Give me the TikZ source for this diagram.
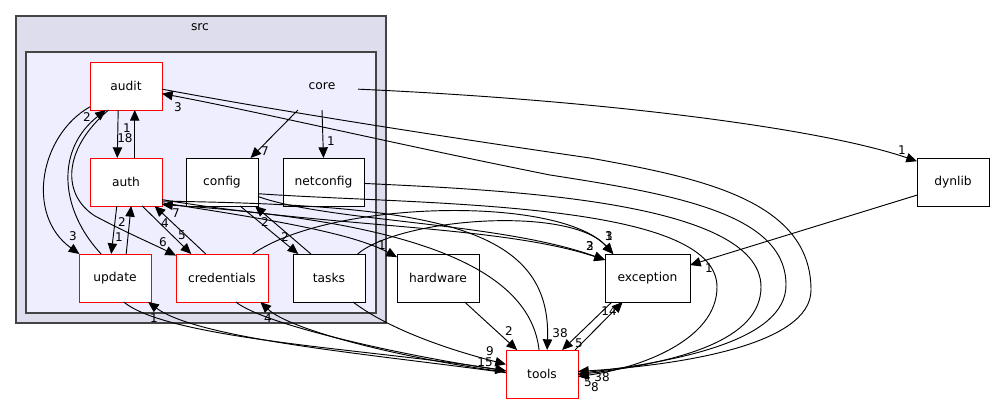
\documentclass[tikz,border=0pt]{standalone}
\usepackage{fontspec}
\newfontfamily\dirfont{DejaVu Sans}
\usepackage{tikz}
\usetikzlibrary{arrows.meta,positioning}
\definecolor{clusterout}{HTML}{DDDDEE}
\definecolor{clusterin}{HTML}{EEEEFF}
\definecolor{frame}{HTML}{444444}
\begin{document}
\begin{tikzpicture}[x=0.75pt, y=-0.75pt, font=\dirfont\fontsize{9.2}{11}\selectfont,
  dirbox/.style={draw=black, fill=white, line width=0.75pt, minimum height=36pt,
    minimum width=54pt, inner sep=0pt, outer sep=0pt},
  cycbox/.style={dirbox, draw=red},
  lab/.style={font=\dirfont\fontsize{9}{10}\selectfont, inner sep=0pt},
  dep/.style={-{Triangle[length=8pt,width=7pt]}, line width=0.7pt}]
  \useasboundingbox (0,0) rectangle (995,404);
  \draw[fill=clusterout, draw=frame, line width=0.8pt] (16,16) rectangle (386,323);
  \node (src) at (200,27) {src};
  \draw[fill=clusterin, draw=frame, line width=1pt] (26,52) rectangle (376,313);
  \node[minimum width=54pt, minimum height=36pt, inner sep=0pt, outer sep=0pt] (core) at (322,86) {core};
  \node[cycbox] (audit) at (126,86) {audit};
  \node[cycbox] (auth) at (126,182) {auth};
  \node[dirbox] (config) at (222,182) {config};
  \node[dirbox, minimum width=60.75pt] (netconfig) at (323.5,182) {netconfig};
  \node[cycbox] (update) at (115,278) {update};
  \node[cycbox, minimum width=69pt] (credentials) at (222,278) {credentials};
  \node[dirbox] (tasks) at (329,278) {tasks};
  \node[dirbox, minimum width=61.5pt] (hardware) at (438,278) {hardware};
  \node[dirbox, minimum width=63.75pt] (exception) at (647.5,278) {exception};
  \node[cycbox] (tools) at (542,374) {tools};
  \node[dirbox] (dynlib) at (953,182) {dynlib};

  \draw[dep] (core.225) -- (config.40);
  \node[lab] at (265,151) {7};
  \draw[dep] (core.south) -- (netconfig.north);
  \node[lab] at (331,141) {1};
  \draw[dep] (core.-5) .. controls (600,100) and (820,128) .. (dynlib.150);
  \node[lab] at (902,150) {1};

  \draw[dep] (audit.252) -- (auth.110);
  \node[lab] at (125,138) {18};
  \draw[dep] (auth.70) -- (audit.290);
  \node[lab] at (127,128) {1};
  \draw[dep] (audit.210) .. controls (40,135) and (25,215) .. (update.146);
  \node[lab] at (73,236) {3};
  \draw[dep] (update.120) .. controls (60,210) and (55,150) .. (audit.230);
  \node[lab] at (87,117) {2};
  \draw[dep] (audit.234) .. controls (62,150) and (62,195) .. (95,216)
    .. controls (125,232) and (155,245) .. (credentials.154);
  \node[lab] at (163,242) {6};
  \draw[dep] (auth.249) -- (update.99);
  \node[lab] at (119,237) {1};
  \draw[dep] (update.65) -- (auth.282);
  \node[lab] at (122,222) {2};
  \draw[dep] (auth.304) -- (credentials.142);
  \node[lab] at (182,235) {5};
  \draw[dep] (credentials.124) -- (auth.320);
  \node[lab] at (165,223) {4};

  \draw[dep] (tools.97) .. controls (530,270) and (420,222) .. (auth.-32);
  \node[lab] at (176,213) {7};
  \draw[dep] (auth.-28) .. controls (430,205) and (552,225) .. (tools.78);
  \node[lab] at (560,333) {38};
  \draw[dep] (auth.-30) .. controls (260,218) and (350,232) .. (hardware.153);
  \node[lab] at (382,245) {1};
  \draw[dep] (auth.-26) .. controls (330,228) and (500,225) .. (exception.157);
  \node[lab] at (590,246) {2};
  \draw[dep] (config.-22) .. controls (330,222) and (500,222) .. (exception.157);
  \node[lab] at (590,246) {3};
  \draw[dep] (credentials.38) .. controls (330,200) and (560,195) .. (exception.145);
  \node[lab] at (609,236) {3};
  \draw[dep] (tasks.40) .. controls (400,218) and (570,205) .. (exception.145);
  \node[lab] at (609,236) {1};
  \draw[dep] (config.307) -- (tasks.142);
  \node[lab] at (285,237) {2};
  \draw[dep] (tasks.127) -- (config.324);
  \node[lab] at (265,222) {2};

  \draw[dep] (audit.-5) .. controls (300,115) and (500,145) .. (590,158)
    .. controls (700,178) and (811,200) .. (811,290)
    .. controls (811,345) and (680,365) .. (tools.4);
  \draw[dep] (tools.1) .. controls (680,362) and (786,340) .. (786,285)
    .. controls (786,215) and (680,195) .. (550,175)
    .. controls (400,145) and (250,110) .. (audit.-12);
  \node[lab] at (178,107) {3};
  \draw[dep] (netconfig.-2) .. controls (500,190) and (761,200) .. (761,287)
    .. controls (761,340) and (680,362) .. (tools.-1);
  \draw[dep] (config.-18) .. controls (420,205) and (717,200) .. (717,287)
    .. controls (717,340) and (640,368) .. (tools.-4);
  \node[lab] at (602,377) {38};
  \node[lab] at (588,382) {5};
  \node[lab] at (595,387) {8};

  \draw[dep] (update.-70) .. controls (170,340) and (380,350) .. (tools.175);
  \draw[dep] (tools.178) .. controls (380,355) and (200,340) .. (update.-36);
  \node[lab] at (154,318) {1};
  \draw[dep] (credentials.-60) .. controls (265,325) and (400,355) .. (tools.175);
  \draw[dep] (tools.177) .. controls (400,358) and (290,330) .. (credentials.-32);
  \node[lab] at (268,318) {4};
  \draw[dep] (tasks.-45) .. controls (390,330) and (450,350) .. (tools.165);
  \node[lab] at (490,351) {9};
  \node[lab] at (485,362) {15};
  \draw[dep] (hardware.-42) -- (tools.136);
  \node[lab] at (509,331) {2};
  \draw[dep] (tools.36) -- (exception.224);
  \node[lab] at (609,311) {14};
  \draw[dep] (exception.214) -- (tools.50);
  \node[lab] at (579,343) {5};
  \draw[dep] (dynlib.200) -- (exception.17);
  \node[lab] at (709,268) {1};
\end{tikzpicture}
\end{document}
